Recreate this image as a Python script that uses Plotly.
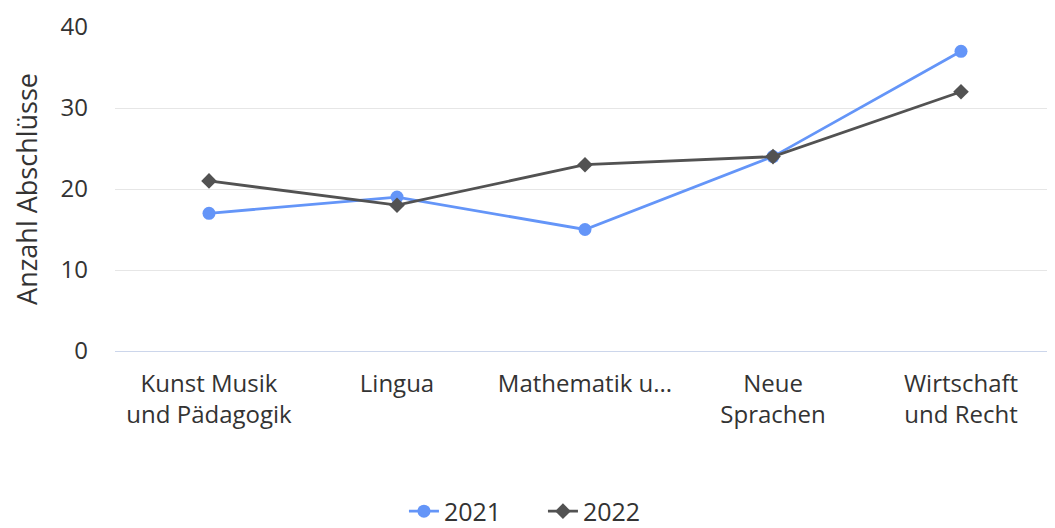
import plotly.graph_objects as go

categories = ["Kunst Musik<br>und Pädagogik", "Lingua", "Mathematik u...", "Neue<br>Sprachen", "Wirtschaft<br>und Recht"]
values_2021 = [17, 19, 15, 24, 37]
values_2022 = [21, 18, 23, 24, 32]
y_ticks = [0, 10, 20, 30, 40]

FONT = "Open Sans"

fig = go.Figure()
fig.add_trace(go.Scatter(
    x=categories, y=values_2021, name="2021", mode="lines+markers",
    line=dict(color="#6495f8", width=2.8),
    marker=dict(symbol="circle", size=13, color="#6495f8"),
))
fig.add_trace(go.Scatter(
    x=categories, y=values_2022, name="2022", mode="lines+markers",
    line=dict(color="#525252", width=2.8),
    marker=dict(symbol="diamond", size=12, color="#525252"),
))

# page body has an 8px default margin; margins compensate for it
fig.update_layout(
    width=1055, height=528,
    margin=dict(l=107, r=8, t=19, b=185, autoexpand=False),
    paper_bgcolor="white", plot_bgcolor="white",
    font=dict(family=FONT, color="#333333", size=24),
    showlegend=True,
    legend=dict(orientation="h", x=0.3074, xanchor="left", y=-0.495, yanchor="middle",
                font=dict(family="Open Sans", size=25, color="#333333"),
                itemwidth=30, entrywidth=94),
    xaxis=dict(type="category", range=[-0.5, 4.5], showgrid=False, zeroline=False,
               showline=False, ticks="", automargin=False, ticklabelstandoff=16,
               tickfont=dict(size=24, color="#333333")),
    yaxis=dict(range=[0, 40], tickvals=y_ticks, showgrid=True, gridcolor="#e6e6e6",
               gridwidth=1, zeroline=True, zerolinecolor="#ccd6eb", zerolinewidth=1,
               showline=False, ticks="", ticklabelstandoff=26, automargin=False,
               tickfont=dict(size=24, color="#333333"),
               title=dict(text="Anzahl Abschlüsse", font=dict(size=27, color="#333333"), standoff=17)),
)

fig.write_html("out.html")
